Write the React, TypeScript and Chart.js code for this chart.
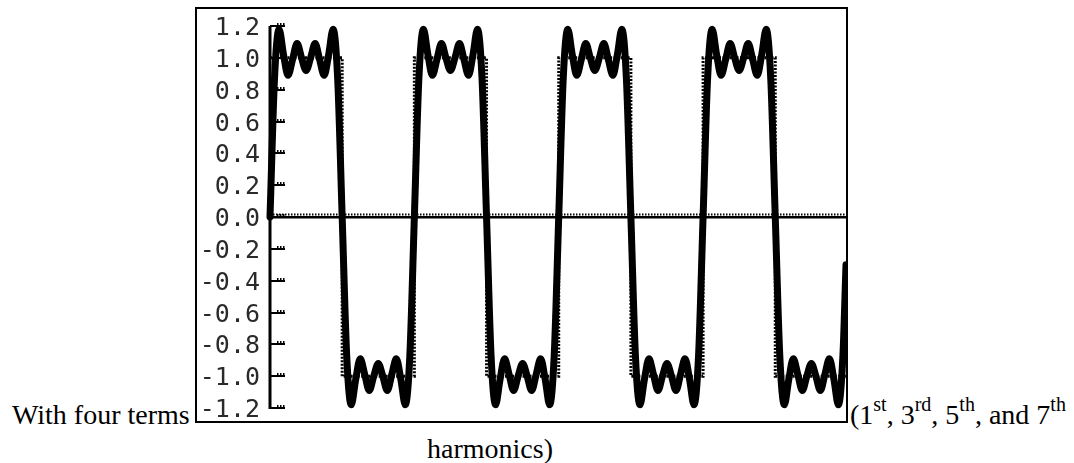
import React, { useEffect, useRef } from "react";
import { Chart, registerables } from "chart.js";

Chart.register(...registerables);

// Partial Fourier sum of a square wave, sampled every 1/16 of a half-period.
const sampleStep = 1 / 16;

const cycle1 = [
  0, 0.87, 1.18, 1.02, 0.89, 0.99, 1.09, 1.0, 0.92, 1.0, 1.09, 0.99, 0.89, 1.02, 1.18, 0.87,
  0, -0.87, -1.18, -1.02, -0.89, -0.99, -1.09, -1.0, -0.92, -1.0, -1.09, -0.99, -0.89, -1.02, -1.18, -0.87,
];
const cycle2 = [
  0, 0.87, 1.18, 1.02, 0.89, 0.99, 1.09, 1.0, 0.92, 1.0, 1.09, 0.99, 0.89, 1.02, 1.18, 0.87,
  0, -0.87, -1.18, -1.02, -0.89, -0.99, -1.09, -1.0, -0.92, -1.0, -1.09, -0.99, -0.89, -1.02, -1.18, -0.87,
];
const cycle3 = [
  0, 0.87, 1.18, 1.02, 0.89, 0.99, 1.09, 1.0, 0.92, 1.0, 1.09, 0.99, 0.89, 1.02, 1.18, 0.87,
  0, -0.87, -1.18, -1.02, -0.89, -0.99, -1.09, -1.0, -0.92, -1.0, -1.09, -0.99, -0.89, -1.02, -1.18, -0.87,
];
const cycle4 = [
  0, 0.87, 1.18, 1.02, 0.89, 0.99, 1.09, 1.0, 0.92, 1.0, 1.09, 0.99, 0.89, 1.02, 1.18, 0.87,
  0, -0.87, -1.18, -1.02, -0.89, -0.99, -1.09, -1.0, -0.92, -1.0, -1.09, -0.99, -0.89, -1.02, -1.18, -0.87,
];
const endTime = 7.98;
const endValue = -0.3;

// Ideal square wave (dotted)
const squareTimes = [0, 1, 1, 2, 2, 3, 3, 4, 4, 5, 5, 6, 6, 7, 7, 7.98];
const squareLevels = [1, 1, -1, -1, 1, 1, -1, -1, 1, 1, -1, -1, 1, 1, -1, -1];

const yTicks = [1.2, 1.0, 0.8, 0.6, 0.4, 0.2, 0.0, -0.2, -0.4, -0.6, -0.8, -1.0, -1.2];
const yTickLabels = ["1.2", "1.0", "0.8", "0.6", "0.4", "0.2", "0.0", "-0.2", "-0.4", "-0.6", "-0.8", "-1.0", "-1.2"];

const xMin = 0;
const xMax = 7.98;
const yMin = -1.2;
const yMax = 1.2;

const serif = "'Liberation Serif', 'Times New Roman', serif";

const axesPlugin = {
  id: "plotAxes",
  beforeDatasetsDraw(chart: any) {
    const { ctx, scales } = chart;
    const xs = scales.x;
    const ys = scales.y;
    const ax = xs.getPixelForValue(0);
    const y0 = ys.getPixelForValue(0);
    const yTop = ys.getPixelForValue(yMax);
    const yBot = ys.getPixelForValue(yMin);
    const xEnd = xs.getPixelForValue(xMax);
    ctx.save();
    ctx.fillStyle = "#000";
    // vertical axis
    ctx.fillRect(ax - 1.5, yTop, 3, yBot - yTop + 1);
    // ticks with small comb marks
    for (const v of yTicks) {
      const py = Math.round(ys.getPixelForValue(v));
      ctx.fillRect(ax, py - 1, 15, 2);
      for (const k of [7, 10, 13]) {
        ctx.fillRect(ax + k, py - 3, 1.5, 2);
      }
    }
    // horizontal zero line with dotted row
    ctx.fillRect(ax, Math.round(y0) - 1, xEnd - ax + 1, 2.5);
    for (let px = ax; px <= xEnd; px += 3) {
      ctx.fillRect(px, Math.round(y0) - 3.5, 1.5, 2);
    }
    // tick labels
    ctx.font = "25px 'DejaVu Sans Mono', monospace";
    ctx.fillStyle = "#2a2a2a";
    ctx.textAlign = "right";
    ctx.textBaseline = "alphabetic";
    yTicks.forEach((v, i) => {
      const py = ys.getPixelForValue(v);
      ctx.fillText(yTickLabels[i], ax - 10, py + 9);
    });
    ctx.restore();
  },
};

export default function App() {
  const canvasRef = useRef<HTMLCanvasElement | null>(null);

  useEffect(() => {
    const canvas = canvasRef.current;
    if (!canvas) return;

    const fourierValues = [...cycle1, ...cycle2, ...cycle3, ...cycle4, endValue];
    const fourierPoints = fourierValues.map((v, i) => ({
      x: i < fourierValues.length - 1 ? i * sampleStep : endTime,
      y: v,
    }));
    const squarePoints = squareTimes.map((t, i) => ({ x: t, y: squareLevels[i] }));

    const chart = new Chart(canvas, {
      type: "line",
      data: {
        datasets: [
          {
            label: "Square wave",
            data: squarePoints,
            borderColor: "#000",
            borderWidth: 3,
            borderDash: [2, 1.5],
            pointRadius: 0,
            tension: 0,
            fill: false,
            clip: false,
          },
          {
            label: "Four terms",
            data: fourierPoints,
            borderColor: "#000",
            borderWidth: 7,
            pointRadius: 0,
            cubicInterpolationMode: "monotone",
            borderJoinStyle: "round",
            borderCapStyle: "round",
            fill: false,
            clip: false,
          },
        ],
      },
      options: {
        responsive: false,
        animation: false,
        parsing: true,
        layout: { padding: { left: 73, right: 0, top: 17, bottom: 13 } },
        plugins: {
          legend: { display: false },
          tooltip: { enabled: false },
        },
        scales: {
          x: { type: "linear", min: xMin, max: xMax, display: false },
          y: { type: "linear", min: yMin, max: yMax, display: false },
        },
      },
      plugins: [axesPlugin],
    });

    return () => chart.destroy();
  }, []);

  const textStyle: React.CSSProperties = {
    position: "absolute",
    fontFamily: serif,
    fontSize: 28,
    lineHeight: "28px",
    color: "#000",
    whiteSpace: "nowrap",
  };
  const supStyle: React.CSSProperties = {
    fontSize: 20,
    verticalAlign: "baseline",
    position: "relative",
    top: -13,
  };

  return (
    <div
      style={{
        position: "absolute",
        left: 0,
        top: 0,
        width: 1074,
        height: 463,
        background: "#fff",
        overflow: "hidden",
      }}
    >
      <div style={{ ...textStyle, left: 12, top: 401 }}>With four terms</div>
      <div
        style={{
          position: "absolute",
          left: 195,
          top: 7,
          width: 653,
          height: 416,
          boxSizing: "border-box",
          border: "2px solid #000",
        }}
      >
        <canvas ref={canvasRef} width={649} height={412} style={{ display: "block", width: 649, height: 412 }} />
      </div>
      <div style={{ ...textStyle, left: 850, top: 401 }}>
        (1<span style={supStyle}>st</span>, 3<span style={supStyle}>rd</span>, 5<span style={supStyle}>th</span>, and 7
        <span style={supStyle}>th</span>
      </div>
      <div style={{ ...textStyle, left: 427, top: 435 }}>harmonics)</div>
    </div>
  );
}
